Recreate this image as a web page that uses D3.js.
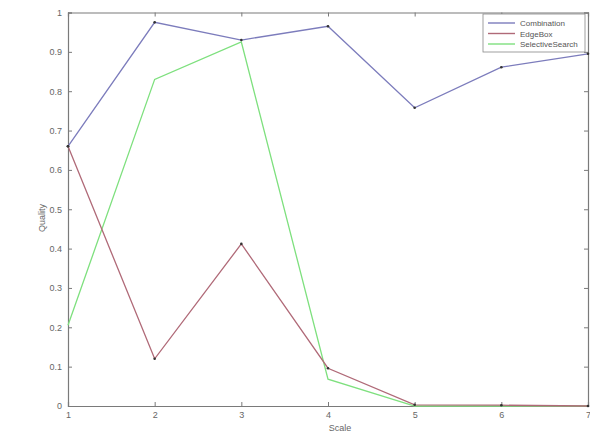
<!DOCTYPE html>
<html lang="en">
<head>
<meta charset="UTF-8">
<title>Quality vs Scale</title>
<script src="https://cdnjs.cloudflare.com/ajax/libs/d3/7.8.5/d3.min.js"></script>
<style>
  body { margin: 0; background: #fff; }
  text { font-family: "Liberation Sans", Arial, sans-serif; }
</style>
</head>
<body>
<svg id="chart" width="590" height="434"></svg>
<script>
// values
var scales = [1, 2, 3, 4, 5, 6, 7];
var combination = [0.66, 0.975, 0.93, 0.965, 0.758, 0.861, 0.895];
var edgeBox = [0.66, 0.12, 0.412, 0.096, 0.003, 0.002, 0.0];
var selectiveSearch = [0.205, 0.83, 0.925, 0.068, 0.0, 0.0, 0.0];
var yTicks = [0, 0.1, 0.2, 0.3, 0.4, 0.5, 0.6, 0.7, 0.8, 0.9, 1];
var seriesNames = ["Combination", "EdgeBox", "SelectiveSearch"];
var seriesColors = ["#7c7cbc", "#b06a78", "#7ee07e"];

var svg = d3.select("#chart");
var plotL = 68, plotR = 588, plotT = 12.5, plotB = 406;

var x = d3.scaleLinear().domain([1, 7]).range([plotL, plotR]);
var y = d3.scaleLinear().domain([0, 1]).range([plotB, plotT]);

var axisColor = "#7a7a7a";

// box and axes (matlab style, ticks inward)
var g = svg.append("g");
g.append("g").attr("transform", "translate(0," + plotB + ")")
  .call(d3.axisBottom(x).tickValues(scales).tickSize(-4).tickPadding(6).tickFormat(d3.format("d")));
g.append("g").attr("transform", "translate(" + plotL + ",0)")
  .call(d3.axisLeft(y).tickValues(yTicks).tickSize(-4).tickPadding(6).tickFormat(function(d) { return d === 0 || d === 1 ? d : d3.format(".1f")(d); }));
g.append("g").attr("transform", "translate(0," + plotT + ")")
  .call(d3.axisTop(x).tickValues(scales).tickSize(-4).tickFormat(""));
g.append("g").attr("transform", "translate(" + plotR + ",0)")
  .call(d3.axisRight(y).tickValues(yTicks).tickSize(-4).tickFormat(""));

g.selectAll(".domain").attr("stroke", axisColor).attr("stroke-width", 1.2);
g.selectAll(".tick line").attr("stroke", axisColor);
g.selectAll(".tick text").attr("fill", "#666").attr("font-size", 9);

svg.append("text").attr("x", 340).attr("y", 431).attr("text-anchor", "middle")
  .attr("font-size", 9).attr("fill", "#666").text("Scale");
svg.append("text").attr("transform", "translate(45,218) rotate(-90)").attr("text-anchor", "middle")
  .attr("font-size", 9).attr("fill", "#666").text("Quality");

// lines
var allSeries = [combination, edgeBox, selectiveSearch];
var line = d3.line().x(function(d, i) { return x(scales[i]); }).y(function(d) { return y(d); });

// draw in reverse so combination sits on top
[2, 1, 0].forEach(function(k) {
  svg.append("path").datum(allSeries[k])
    .attr("fill", "none").attr("stroke", seriesColors[k]).attr("stroke-width", 1.3)
    .attr("d", line);
});
[0, 1].forEach(function(k) {
  svg.selectAll(".dot" + k).data(allSeries[k]).enter().append("circle")
    .attr("cx", function(d, i) { return x(scales[i]); })
    .attr("cy", function(d) { return y(d); })
    .attr("r", 1.3).attr("fill", "#333");
});

// legend
var lg = svg.append("g").attr("transform", "translate(483,14)");
lg.append("rect").attr("width", 102).attr("height", 38)
  .attr("fill", "#fff").attr("stroke", "#888").attr("stroke-width", 0.8);
seriesNames.forEach(function(name, i) {
  var yy = 9 + i * 10.5;
  lg.append("line").attr("x1", 5).attr("x2", 32).attr("y1", yy).attr("y2", yy)
    .attr("stroke", seriesColors[i]).attr("stroke-width", 1.4);
  lg.append("text").attr("x", 37).attr("y", yy + 3).attr("font-size", 8).attr("fill", "#555").text(name);
});
</script>
</body>
</html>
